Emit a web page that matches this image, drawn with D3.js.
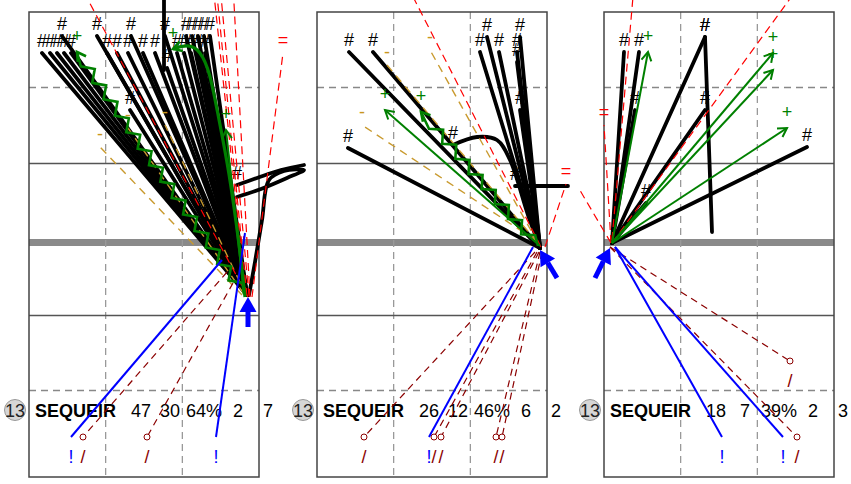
<!DOCTYPE html>
<html>
<head>
<meta charset="utf-8">
<script src="https://cdn.jsdelivr.net/npm/d3@7"></script>
<style>
  html, body { margin: 0; padding: 0; background: #fff; }
  svg { display: block; font-family: "Liberation Sans", Arial, sans-serif; }
</style>
</head>
<body>
<svg id="chart" width="851" height="484"></svg>
<script>
// pitch in plot units (5 px per unit)
const FIELD_W = 46, FIELD_L = 93;
const dashedX = [15.33, 30.67];
const dashedY = [15.1, 75.7];
const solidY = [30.3, 60.7];
const halfwayY = 46.1;

// stats row
const shirtNo = "13";
const playerName = "SEQUEIR";
const statTotal = [47, 26, 18];
const statOk = [30, 12, 7];
const statPct = ["64%", "46%", "39%"];
const statC = [2, 6, 2];
const statD = [7, 2, 3];

// [panel, x1, y1, x2, y2] ; end = x2,y2
const passes = [
  [0, 43.6, 56.6, 2.6, 8.2], [0, 43.6, 56.6, 4.2, 8.2], [0, 43.6, 56.6, 5.6, 8.2],
  [0, 43.6, 56.6, 7.0, 8.2], [0, 43.6, 56.6, 8.4, 8.2], [0, 43.6, 56.6, 6.6, 4.8],
  [0, 43.6, 56.6, 13.6, 4.8], [0, 43.6, 56.6, 15.6, 8.2], [0, 43.6, 56.6, 17.6, 8.2],
  [0, 43.6, 56.6, 19.8, 8.2], [0, 43.6, 56.6, 20.4, 4.8], [0, 43.6, 56.6, 22.8, 8.2],
  [0, 43.6, 56.6, 25.2, 8.2], [0, 43.6, 56.6, 20.2, 19.6], [0, 43.6, 56.6, 27.2, 4.8],
  [0, 43.6, 56.6, 27.6, 11.2],
  [0, 43.6, 56.6, 31.4, 4.8], [0, 43.6, 56.6, 32.6, 4.8], [0, 43.6, 56.6, 33.8, 4.8],
  [0, 43.6, 56.6, 35.0, 4.8], [0, 43.6, 56.6, 36.2, 4.8], [0, 43.6, 56.6, 29.6, 8.2],
  [0, 43.6, 56.6, 31.0, 8.2], [0, 43.6, 56.6, 32.4, 8.2], [0, 43.6, 56.6, 33.8, 8.2],
  [0, 43.6, 56.6, 35.2, 8.2],
  [0, 27.0, 11.6, 27.0, -3.4],
  [1, 44.6, 47.2, 6.2, 27.2], [1, 44.6, 47.2, 6.4, 8], [1, 44.6, 47.2, 11.2, 8],
  [1, 44.6, 47.2, 32.6, 8], [1, 44.6, 47.2, 34.0, 5], [1, 44.6, 47.2, 36.4, 8],
  [1, 44.6, 47.2, 40.6, 5], [1, 44.6, 47.2, 40.0, 8], [1, 44.6, 47.2, 40.0, 10],
  [1, 44.6, 47.2, 40.6, 19.6],
  [1, 50.2, 34.8, 39.6, 34.8],
  [2, 1.6, 46.2, 4.0, 8], [2, 1.6, 46.2, 7.0, 8], [2, 1.6, 46.2, 6.2, 19.6],
  [2, 1.6, 46.2, 20.2, 5], [2, 21.6, 44.0, 20.2, 5], [2, 1.6, 46.2, 20.2, 19.6],
  [2, 1.6, 46.2, 40.6, 27], [2, 1.6, 46.2, 8.4, 38.2]
];

// curved carries: [panel, labelled, points (end first)]
const carries = [
  [0, 1, [[41.6, 34.6], [45.6, 33.2], [50.4, 31.6], [55, 30.6]]],
  [0, 0, [[41.6, 37], [46.4, 35.4], [51.6, 33.2], [55, 31.6], [51, 31.8], [48, 33.6], [46.6, 41.6], [45.2, 50], [44, 56.6]]],
  [1, 1, [[27.2, 26.6], [32, 25], [36, 25.6], [38.6, 29.6], [42.2, 40.6], [44.6, 47]]]
];

// red dashed: [panel, x1, y1, x2, y2, labelled]
const crosses = [
  [0, 43.8, 57, 10.2, -5.4, 1], [0, 43.4, 56.6, 36.8, -5.4, 1], [0, 43.6, 56.8, 37.4, -5.4, 1],
  [0, 44.0, 56.8, 38.2, -5.4, 1], [0, 44.2, 57, 40.8, -5.4, 1], [0, 44.6, 57, 50.8, 8.2, 1],
  [1, 44.8, 47, 18, -5.4, 1], [1, 45.6, 47, 49.8, 34.4, 1],
  [2, 1.6, 46.2, 39.2, -5.4, 1], [2, 1.6, 45.6, 6, -5.4, 1], [2, 1.4, 46.2, 0, 22.6, 1],
  [2, 1.4, 46.2, -5.2, 35, 0]
];

const longBalls = [
  [0, 42.6, 56.6, 14.2, 27], [0, 43.4, 56.6, 27.2, 22.6], [0, 43.0, 56.4, 19.8, 23.2],
  [1, 43.6, 45.6, 9, 22.6], [1, 44, 46, 14, 10.6], [1, 44.2, 46.2, 22.6, 7.6]
];

const dribbles = [
  [0, 43, 56.4, 9.6, 8],
  [1, 44.2, 46.8, 20.8, 20]
];

const greenCurves = [
  [0, [[43.2, 57], [42.2, 47.6], [40, 31.6], [37.8, 20.6], [36.2, 12], [34.2, 7.6], [31.8, 6.4], [28.8, 7.4]]]
];

const keyPasses = [
  [0, 43, 56.4, 39.4, 23.6],
  [1, 44.6, 46.8, 13.6, 19.6],
  [2, 1.6, 46.2, 8.8, 8], [2, 1.6, 46.2, 33.8, 8.2],
  [2, 1.6, 46.2, 33.8, 11.6], [2, 1.6, 46.2, 36.6, 23.2]
];

const bluePasses = [
  [0, 38.6, 49.6, 8.4, 85], [0, 43.2, 44.2, 37.4, 85],
  [1, 43.2, 47, 22.4, 85],
  [2, 2.2, 47, 23.6, 85], [2, 2.2, 47, 35.8, 85]
];

const lostBalls = [
  [0, 39.6, 52, 10.8, 85], [0, 40.8, 54.2, 23.6, 85],
  [1, 43.6, 48, 9.4, 85], [1, 44, 48, 23.4, 85], [1, 44.4, 48, 24.8, 85],
  [1, 44.6, 48, 35.8, 85], [1, 45, 48, 37, 85],
  [2, 1.2, 47, 37.2, 69.8], [2, 1.2, 47, 38.6, 85]
];

const playDirection = [
  [0, 43.8, 63, 43.8, 57],
  [1, 48, 53.2, 44.6, 47.6],
  [2, -1.8, 53.2, 1.2, 47.2]
];

// ---- layout
const panelLeft = [29, 317, 604];
const PX = 5;
const W = 851, H = 484;
const svg = d3.select("#chart");
const xs = panelLeft.map(l => d3.scaleLinear().domain([0, FIELD_W]).range([l, l + FIELD_W * PX]));
const y = d3.scaleLinear().domain([0, FIELD_L]).range([12, 12 + FIELD_L * PX]);

const pt = (p, a, b) => [xs[p](a), y(b)];
const unit = (a, b) => {
  const dx = b[0] - a[0], dy = b[1] - a[1], L = Math.hypot(dx, dy) || 1;
  return [dx / L, dy / L];
};

function openHead(from, to, len, spread) {
  const [ux, uy] = unit(from, to);
  const c = Math.cos(spread), s = Math.sin(spread);
  const l = [to[0] - len * (ux * c - uy * s), to[1] - len * (uy * c + ux * s)];
  const r = [to[0] - len * (ux * c + uy * s), to[1] - len * (uy * c - ux * s)];
  return `M${l}L${to}L${r}`;
}

function zigzag(a, b, step, amp) {
  const [ux, uy] = unit(a, b);
  const L = Math.hypot(b[0] - a[0], b[1] - a[1]);
  const n = Math.floor(L / step);
  const pts = [a];
  for (let k = 1; k < n; k++) {
    const sg = k % 2 ? 1 : -1;
    pts.push([a[0] + ux * k * step - uy * amp * sg, a[1] + uy * k * step + ux * amp * sg]);
  }
  pts.push(b);
  return d3.line()(pts);
}

// labels whose spot falls outside the picture are not drawn
function label(g, p, txt, color, dy, size) {
  const ty = p[1] + dy;
  if (ty - size * 0.6 < 0 || ty > H || p[0] < 0 || p[0] > W) return;
  g.append("text")
    .attr("x", p[0]).attr("y", ty)
    .attr("text-anchor", "middle")
    .attr("font-size", size)
    .attr("fill", color)
    .text(txt);
}

// ---- pitch
const field = svg.append("g");
panelLeft.forEach((l, p) => {
  const x = xs[p];
  field.append("line")
    .attr("x1", x(0)).attr("x2", x(FIELD_W)).attr("y1", y(halfwayY)).attr("y2", y(halfwayY))
    .attr("stroke", "#8a8a8a").attr("stroke-width", 7);
  dashedX.forEach(v => field.append("line")
    .attr("x1", x(v)).attr("x2", x(v)).attr("y1", y(0)).attr("y2", y(FIELD_L))
    .attr("stroke", "#999").attr("stroke-width", 1.3).attr("stroke-dasharray", "7,5"));
  dashedY.forEach(v => field.append("line")
    .attr("x1", x(0)).attr("x2", x(FIELD_W)).attr("y1", y(v)).attr("y2", y(v))
    .attr("stroke", "#888").attr("stroke-width", 1.3).attr("stroke-dasharray", "7,5"));
  solidY.forEach(v => field.append("line")
    .attr("x1", x(0)).attr("x2", x(FIELD_W)).attr("y1", y(v)).attr("y2", y(v))
    .attr("stroke", "#555").attr("stroke-width", 1.3));
  field.append("rect")
    .attr("x", x(0)).attr("y", y(0))
    .attr("width", x(FIELD_W) - x(0)).attr("height", y(FIELD_L) - y(0))
    .attr("fill", "none").attr("stroke", "#444").attr("stroke-width", 1.5);
});

// ---- stats row
const stats = svg.append("g");
const colOff = [112, 141, 175, 209, 239];
panelLeft.forEach((l, p) => {
  const cy = 410, base = 416.5;
  stats.append("circle").attr("cx", l - 14).attr("cy", cy).attr("r", 10.5)
    .attr("fill", "#d6d6d6").attr("stroke", "#999").attr("stroke-width", 1);
  stats.append("text").attr("x", l - 14).attr("y", base).attr("text-anchor", "middle")
    .attr("font-size", 18).attr("fill", "#222").text(shirtNo);
  stats.append("text").attr("x", l + 6).attr("y", base)
    .attr("font-size", 18).attr("font-weight", "bold").attr("fill", "#000").text(playerName);
  [statTotal[p], statOk[p], statPct[p], statC[p], statD[p]].forEach((v, i) => {
    stats.append("text").attr("x", l + colOff[i]).attr("y", base).attr("text-anchor", "middle")
      .attr("font-size", 18).attr("fill", "#000").text(v);
  });
});

// ---- events
const gBlack = svg.append("g");
passes.forEach(([p, x1, y1, x2, y2]) => {
  const a = pt(p, x1, y1), b = pt(p, x2, y2);
  gBlack.append("line").attr("x1", a[0]).attr("y1", a[1]).attr("x2", b[0]).attr("y2", b[1])
    .attr("stroke", "#000").attr("stroke-width", 3.8).attr("stroke-linecap", "round");
  label(gBlack, b, "#", "#000", -6, 18);
});
carries.forEach(([p, lab, pts]) => {
  const px = pts.map(d => pt(p, d[0], d[1]));
  gBlack.append("path").attr("d", d3.line().curve(d3.curveCatmullRom)(px))
    .attr("fill", "none").attr("stroke", "#000").attr("stroke-width", 3.8).attr("stroke-linecap", "round");
  if (lab) label(gBlack, px[0], "#", "#000", -6, 18);
});

const gTan = svg.append("g");
longBalls.forEach(([p, x1, y1, x2, y2]) => {
  const a = pt(p, x1, y1), b = pt(p, x2, y2);
  gTan.append("line").attr("x1", a[0]).attr("y1", a[1]).attr("x2", b[0]).attr("y2", b[1])
    .attr("stroke", "#c99a2e").attr("stroke-width", 1.4).attr("stroke-dasharray", "8,6");
  label(gTan, b, "-", "#c8961e", -7, 18);
});

const gLost = svg.append("g");
lostBalls.forEach(([p, x1, y1, x2, y2]) => {
  const a = pt(p, x1, y1), b = pt(p, x2, y2);
  gLost.append("line").attr("x1", a[0]).attr("y1", a[1]).attr("x2", b[0]).attr("y2", b[1])
    .attr("stroke", "#8b0000").attr("stroke-width", 1.2).attr("stroke-dasharray", "7,5");
  gLost.append("circle").attr("cx", b[0]).attr("cy", b[1]).attr("r", 3)
    .attr("fill", "#fff").attr("stroke", "#8b0000").attr("stroke-width", 1);
  label(gLost, b, "/", "#8b0000", 26, 18);
});

const gRed = svg.append("g");
crosses.forEach(([p, x1, y1, x2, y2, lab]) => {
  const a = pt(p, x1, y1), b = pt(p, x2, y2);
  gRed.append("line").attr("x1", a[0]).attr("y1", a[1]).attr("x2", b[0]).attr("y2", b[1])
    .attr("stroke", "#ff0000").attr("stroke-width", 1.2).attr("stroke-dasharray", "8,5");
  if (lab) label(gRed, b, "=", "#ff0000", -7, 18);
});

const gGreen = svg.append("g");
dribbles.forEach(([p, x1, y1, x2, y2]) => {
  const a = pt(p, x1, y1), b = pt(p, x2, y2);
  gGreen.append("path").attr("d", zigzag(a, b, 10, 5))
    .attr("fill", "none").attr("stroke", "#008000").attr("stroke-width", 2.6);
  gGreen.append("path").attr("d", openHead(a, b, 10, Math.PI / 6))
    .attr("fill", "none").attr("stroke", "#008000").attr("stroke-width", 2.6);
  label(gGreen, b, "+", "#008000", -10, 18);
});
greenCurves.forEach(([p, pts]) => {
  const px = pts.map(d => pt(p, d[0], d[1]));
  gGreen.append("path").attr("d", d3.line().curve(d3.curveBasis)(px))
    .attr("fill", "none").attr("stroke", "#008000").attr("stroke-width", 3.2);
  const n = px.length;
  gGreen.append("path").attr("d", openHead(px[n - 2], px[n - 1], 10, Math.PI / 6))
    .attr("fill", "none").attr("stroke", "#008000").attr("stroke-width", 2.6);
  label(gGreen, px[n - 1], "+", "#008000", -10, 18);
});
keyPasses.forEach(([p, x1, y1, x2, y2]) => {
  const a = pt(p, x1, y1), b = pt(p, x2, y2);
  gGreen.append("line").attr("x1", a[0]).attr("y1", a[1]).attr("x2", b[0]).attr("y2", b[1])
    .attr("stroke", "#008000").attr("stroke-width", 2);
  gGreen.append("path").attr("d", openHead(a, b, 10, Math.PI / 6))
    .attr("fill", "none").attr("stroke", "#008000").attr("stroke-width", 2);
  label(gGreen, b, "+", "#008000", -10, 18);
});

const gBlue = svg.append("g");
bluePasses.forEach(([p, x1, y1, x2, y2]) => {
  const a = pt(p, x1, y1), b = pt(p, x2, y2);
  gBlue.append("line").attr("x1", a[0]).attr("y1", a[1]).attr("x2", b[0]).attr("y2", b[1])
    .attr("stroke", "#0000ff").attr("stroke-width", 2);
  label(gBlue, b, "!", "#0000ff", 26, 18);
});
playDirection.forEach(([p, x1, y1, x2, y2]) => {
  const a = pt(p, x1, y1), b = pt(p, x2, y2);
  const [ux, uy] = unit(a, b);
  const hl = 15, hw = 8.5;
  const base = [b[0] - ux * hl, b[1] - uy * hl];
  gBlue.append("line").attr("x1", a[0]).attr("y1", a[1]).attr("x2", base[0]).attr("y2", base[1])
    .attr("stroke", "#0000ff").attr("stroke-width", 5);
  gBlue.append("path")
    .attr("d", `M${b}L${[base[0] - uy * hw, base[1] + ux * hw]}L${[base[0] + uy * hw, base[1] - ux * hw]}Z`)
    .attr("fill", "#0000ff");
});
</script>
</body>
</html>
